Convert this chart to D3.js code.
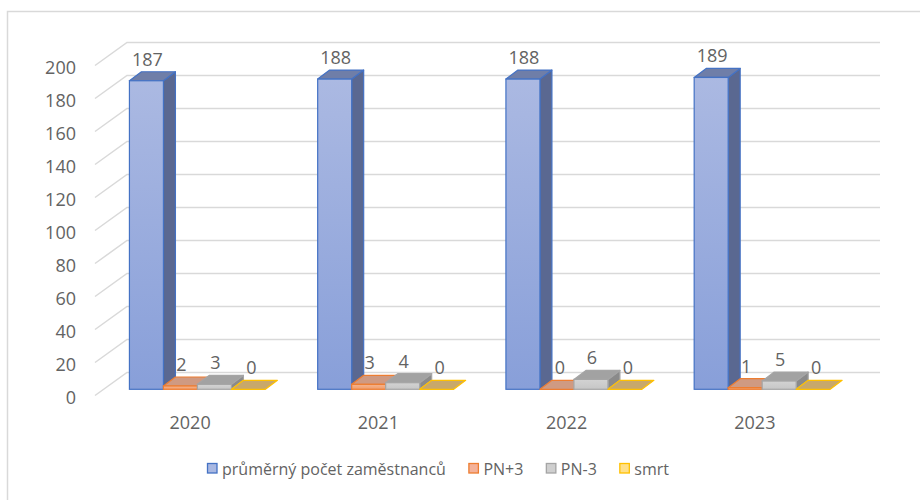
<!DOCTYPE html>
<html><head><meta charset="utf-8">
<script src="https://cdn.jsdelivr.net/npm/d3@7"></script>
<style>html,body{margin:0;padding:0;background:#fff;}svg{display:block;}</style>
</head><body>
<svg id="c" width="920" height="500"></svg>
<script>
const years = ["2020", "2021", "2022", "2023"];
const seriesNames = ["průměrný počet zaměstnanců", "PN+3", "PN-3", "smrt"];
const avgEmployees = [187, 188, 188, 189];
const pnPlus3 = [2, 3, 0, 1];
const pnMinus3 = [3, 4, 6, 5];
const deaths = [0, 0, 0, 0];
const yTicks = [0, 20, 40, 60, 80, 100, 120, 140, 160, 180, 200];

const seriesValues = [avgEmployees, pnPlus3, pnMinus3, deaths];
const styles = [
  {front0:"#abb9e2", front1:"#889fd9", stroke:"#4472c4", top:"#6f7ea8", side:"#5a6891", legend:"#a9b8e2"},
  {front0:"#f5b48f", front1:"#f09c6a", stroke:"#ed7d31", top:"#cf9a82", side:"#b8704a", legend:"#f4b29a"},
  {front0:"#d3d3d3", front1:"#c6c6c6", stroke:"#a5a5a5", top:"#a2a2a2", side:"#8a8a8a", legend:"#cfcfcf"},
  {front0:"#e6c36a", front1:"#dcb65a", stroke:"#ffc000", top:"#c8a86a", side:"#b08a3a", legend:"#ffe08a"}
];

const svg = d3.select("#c");
const FONT = "'Open Sans', 'DejaVu Sans', sans-serif";
const txt = "#636363";

svg.append("rect").attr("width",920).attr("height",500).attr("fill","#fff");
svg.append("rect").attr("x",7.5).attr("y",11.5).attr("width",930).attr("height",520)
  .attr("fill","none").attr("stroke","#d9d9d9").attr("stroke-width",1.5);

const x = d3.scaleBand().domain(years).range([95, 848]);
const y = d3.scaleLinear().domain([0, 200]).range([395.5, 65.5]);
const wallDx = 32, wallDy = -23;
const groupW = 136;
const x1 = d3.scaleBand().domain(seriesNames)
  .range([(x.bandwidth()-groupW)/2, (x.bandwidth()+groupW)/2]);
const bdx = 8.3, bdy = -6.2;   // bar front plane offset from chart front
const ddx = 12, ddy = -9;      // bar depth

// gridlines
const grid = svg.append("g");
yTicks.forEach(t => {
  const y0 = y(t);
  grid.append("path")
    .attr("d", `M${x.range()[0]},${y0} L${x.range()[0]+wallDx},${y0+wallDy} L${x.range()[1]+wallDx},${y0+wallDy}`)
    .attr("fill","none").attr("stroke","#d9d9d9").attr("stroke-width",1.5);
  svg.append("text").attr("x",76).attr("y",y0+1).attr("text-anchor","end")
    .attr("dominant-baseline","central")
    .attr("font-family",FONT).attr("font-size",18).attr("fill",txt).text(t);
});

// gradients
const defs = svg.append("defs");
styles.forEach((s,i) => {
  const g = defs.append("linearGradient").attr("id","g"+i).attr("x1",0).attr("y1",0).attr("x2",0).attr("y2",1);
  g.append("stop").attr("offset","0%").attr("stop-color",s.front0);
  g.append("stop").attr("offset","100%").attr("stop-color",s.front1);
});

// bars
const bars = svg.append("g");
const labels = [];
years.forEach((yr, ci) => {
  seriesNames.forEach((sn, si) => {
    const v = seriesValues[si][ci];
    const s = styles[si];
    const xl = x(yr) + x1(sn) + bdx;
    const xr = xl + x1.bandwidth();
    const yb = y(0) + bdy;
    const yt = y(v) + bdy;
    if (v > 0) {
      bars.append("path").attr("d",`M${xr},${yt} L${xr+ddx},${yt+ddy} L${xr+ddx},${yb+ddy} L${xr},${yb} Z`)
        .attr("fill",s.side).attr("stroke",s.stroke).attr("stroke-width",1.2).attr("stroke-linejoin","round");
    }
    bars.append("path").attr("d",`M${xl},${yt} L${xl+ddx},${yt+ddy} L${xr+ddx},${yt+ddy} L${xr},${yt} Z`)
      .attr("fill",s.top).attr("stroke",s.stroke).attr("stroke-width",1.2).attr("stroke-linejoin","round");
    if (v > 0) {
      bars.append("rect").attr("x",xl).attr("y",yt).attr("width",xr-xl).attr("height",yb-yt)
        .attr("fill",`url(#g${si})`).attr("stroke",s.stroke).attr("stroke-width",1.2);
    }
    labels.push({x:(xl+xr)/2 + (v===0?3:1), y:yt-22, v});
  });
  svg.append("text").attr("x", x(yr)+x.bandwidth()/2+1).attr("y",422)
    .attr("text-anchor","middle").attr("dominant-baseline","central")
    .attr("font-family",FONT).attr("font-size",18).attr("fill",txt).text(yr);
});

labels.forEach(l => {
  svg.append("text").attr("x",l.x).attr("y",l.y).attr("text-anchor","middle")
    .attr("dominant-baseline","central")
    .attr("font-family",FONT).attr("font-size",18).attr("fill",txt).text(l.v);
});

// legend
const lg = svg.append("g");
let lx = 207;
seriesNames.forEach((sn, si) => {
  lg.append("rect").attr("x",lx+0.5).attr("y",463.5).attr("width",9.5).attr("height",9.5)
    .attr("fill",styles[si].legend).attr("stroke",styles[si].stroke).attr("stroke-width",1.3);
  const t = lg.append("text").attr("x",lx+15).attr("y",468.5).attr("dominant-baseline","central")
    .attr("font-family",FONT).attr("font-size",16).attr("fill",txt).text(sn);
  lx = lx + 15 + t.node().getComputedTextLength() + 22.5;
});
</script>
</body></html>
